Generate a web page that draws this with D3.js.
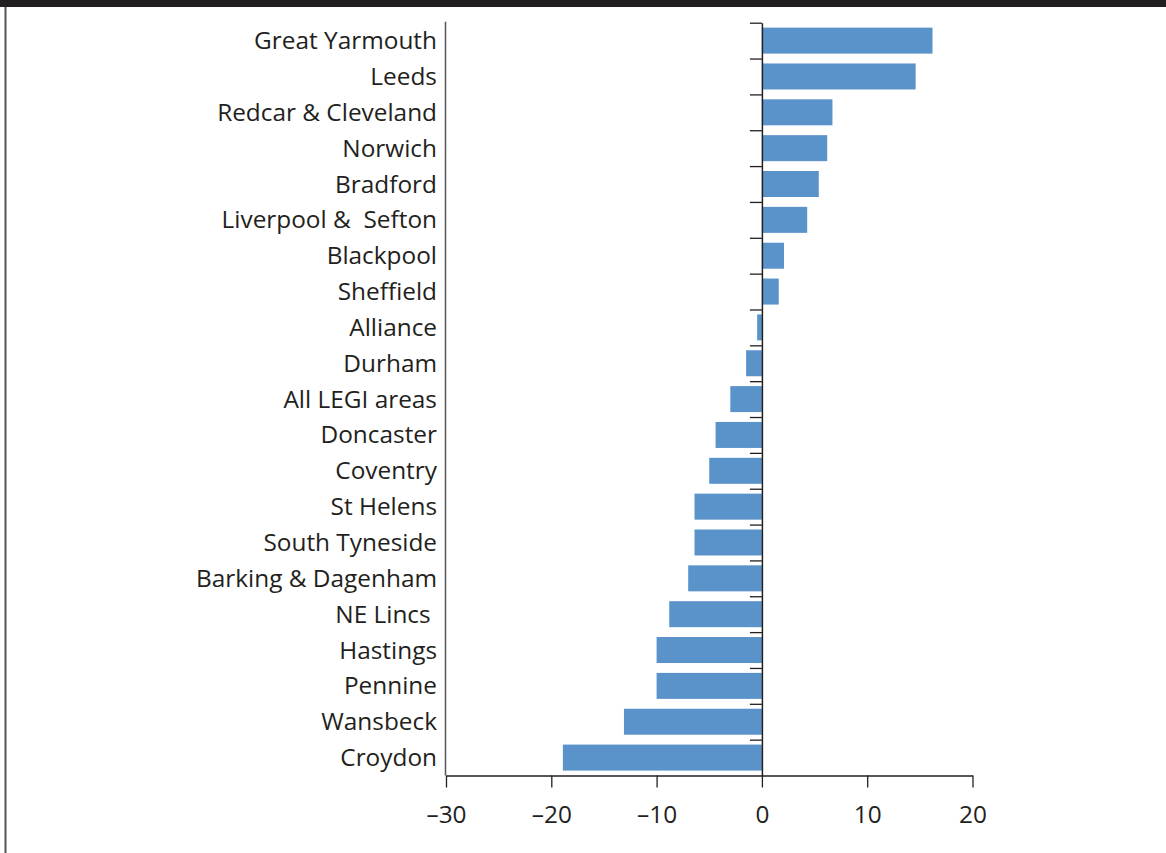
<!DOCTYPE html>
<html><head><meta charset="utf-8">
<script src="https://cdn.jsdelivr.net/npm/d3@7"></script>
<style>
html,body{margin:0;padding:0;background:#fff;}
svg text{font-family:"Open Sans",sans-serif;fill:#231f20;white-space:pre;}
</style></head>
<body><svg id="c" width="1166" height="853"></svg>
<script>
const categories = ["Great Yarmouth","Leeds","Redcar & Cleveland","Norwich","Bradford","Liverpool &  Sefton","Blackpool","Sheffield","Alliance","Durham","All LEGI areas","Doncaster","Coventry","St Helens","South Tyneside","Barking & Dagenham","NE Lincs ","Hastings","Pennine","Wansbeck","Croydon"];
const values = [16.2,14.6,6.7,6.2,5.4,4.3,2.1,1.6,-0.45,-1.5,-3.0,-4.4,-5.0,-6.4,-6.4,-7.0,-8.8,-10.0,-10.0,-13.1,-18.9];
const xTicks = [-30,-20,-10,0,10,20];

(function(){
const svg = d3.select("#c");
const W = 1166, H = 853;
const plotTop = 22.7, plotBottom = 775.5;
const x = d3.scaleLinear().domain([-30,20]).range([446,972.5]);
const y = d3.scaleBand().domain(categories).range([plotTop,plotBottom]).paddingInner(0.275).paddingOuter(0.1375);
const idx = d3.scaleLinear().domain([0,categories.length]).range([plotTop,plotBottom]);

// frame
svg.append("rect").attr("x",0).attr("y",0).attr("width",W).attr("height",7).attr("fill","#231f20");
svg.append("line").attr("x1",5.5).attr("x2",5.5).attr("y1",7).attr("y2",H).attr("stroke","#555").attr("stroke-width",2);

// bars
svg.selectAll("rect.bar").data(categories).join("rect").attr("class","bar")
  .attr("x",(d,i)=>Math.min(x(0),x(values[i])))
  .attr("width",(d,i)=>Math.abs(x(values[i])-x(0)))
  .attr("y",d=>y(d)).attr("height",y.bandwidth())
  .attr("fill","#5a92ca");

// left axis line
svg.append("line").attr("x1",445.5).attr("x2",445.5).attr("y1",plotTop-1).attr("y2",plotBottom).attr("stroke","#555").attr("stroke-width",1.5);

// zero axis with band-boundary ticks
const zAxis = svg.append("g").attr("transform",`translate(${x(0)},0)`)
  .call(d3.axisLeft(idx).tickValues(d3.range(0,categories.length)).tickSize(12).tickSizeOuter(0).tickFormat(""));
zAxis.select(".domain").attr("stroke","#231f20").attr("stroke-width",1.5);
zAxis.selectAll(".tick line").attr("stroke","#231f20").attr("stroke-width",1.3);

// x axis
const xAxis = svg.append("g").attr("transform",`translate(0,${plotBottom})`)
  .call(d3.axisBottom(x).tickValues(xTicks).tickSize(12).tickSizeOuter(0).tickPadding(18)
    .tickFormat(d=> d<0 ? "\u2013"+Math.abs(d) : String(d)));
xAxis.select(".domain").attr("stroke","#231f20").attr("stroke-width",1.3);
xAxis.selectAll(".tick line").attr("stroke","#231f20").attr("stroke-width",1.3);
xAxis.selectAll(".tick text").attr("font-size",22).attr("fill","#231f20").style("font-family","'Open Sans',sans-serif");

// category labels, size fitted to reference width of the first label
const labels = svg.selectAll("text.cat").data(categories).join("text").attr("class","cat")
  .attr("x",437).attr("y",d=>y(d)+y.bandwidth()/2).attr("dy","0.35em")
  .attr("text-anchor","end").attr("font-size",20).text(d=>d);
const w0 = labels.node().getComputedTextLength();
const fs = 20*183/w0;
labels.attr("font-size",fs);
xAxis.selectAll(".tick text").attr("font-size",fs);
})();
</script></body></html>
